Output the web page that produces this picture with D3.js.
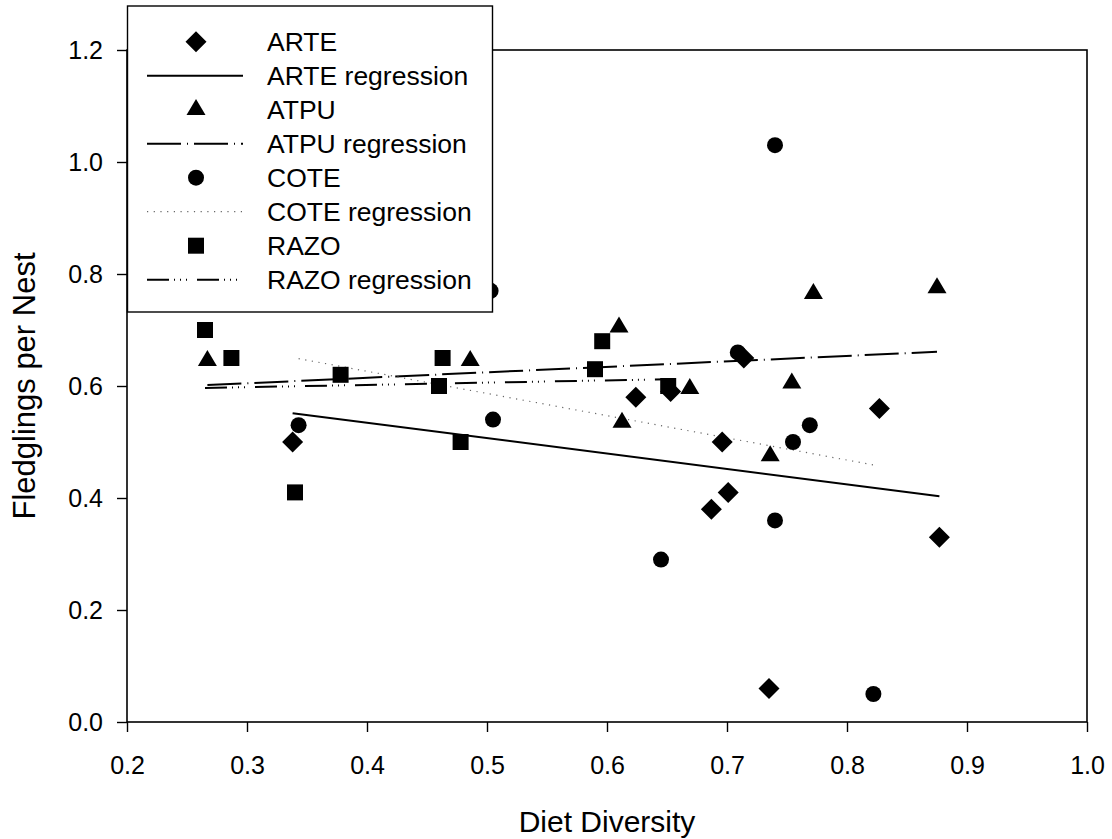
<!DOCTYPE html>
<html>
<head>
<meta charset="utf-8">
<script src="https://cdn.jsdelivr.net/npm/d3@7"></script>
<style>
  body { margin: 0; background: #fff; }
  text { font-family: Arial, "Liberation Sans", sans-serif; fill: #000; }
</style>
</head>
<body>
<svg width="1112" height="839"></svg>
<script>
// values
let arteX = [0.338, 0.624, 0.653, 0.696, 0.714, 0.701, 0.687, 0.735, 0.827, 0.877]
let arteY = [0.50, 0.58, 0.59, 0.50, 0.65, 0.41, 0.38, 0.06, 0.56, 0.33]

let atpuX = [0.267, 0.486, 0.610, 0.6125, 0.669, 0.736, 0.754, 0.772, 0.875]
let atpuY = [0.645, 0.645, 0.705, 0.535, 0.595, 0.475, 0.605, 0.765, 0.775]

let coteX = [0.343, 0.503, 0.505, 0.645, 0.709, 0.740, 0.740, 0.755, 0.769, 0.822]
let coteY = [0.53, 0.77, 0.54, 0.29, 0.66, 1.03, 0.36, 0.50, 0.53, 0.05]

let razoX = [0.265, 0.287, 0.340, 0.378, 0.460, 0.463, 0.478, 0.590, 0.596, 0.651]
let razoY = [0.70, 0.65, 0.41, 0.62, 0.60, 0.65, 0.50, 0.63, 0.68, 0.60]

let species = ['ARTE', 'ATPU', 'COTE', 'RAZO']
let xTicks = [0.2, 0.3, 0.4, 0.5, 0.6, 0.7, 0.8, 0.9, 1.0]
let yTicks = [0.0, 0.2, 0.4, 0.6, 0.8, 1.0, 1.2]

let margin = { top: 50, right: 25, bottom: 117, left: 127 }
let width = 1112
let height = 839

// triangle is centred on its centroid, like the original symbol
let shapes = {
  ARTE: 'M0,-10.5L10.5,0L0,10.5L-10.5,0Z',
  ATPU: 'M0,-10.7L9.5,5.3L-9.5,5.3Z',
  COTE: 'M-8,0A8,8 0 1,0 8,0A8,8 0 1,0 -8,0Z',
  RAZO: 'M-8,-8H8V8H-8Z'
}
let dashes = {
  ARTE: null,
  ATPU: '34,6,1,6',
  COTE: '1.2,5.5',
  RAZO: '22,5,1,5,1,5,1,10'
}
let lineColor = { ARTE: '#000', ATPU: '#000', COTE: '#666', RAZO: '#000' }

let series = [
  { name: 'ARTE', xs: arteX, ys: arteY },
  { name: 'ATPU', xs: atpuX, ys: atpuY },
  { name: 'COTE', xs: coteX, ys: coteY },
  { name: 'RAZO', xs: razoX, ys: razoY }
]

// least squares line over the range of the data
function fit(xs, ys) {
  let mx = d3.mean(xs), my = d3.mean(ys)
  let sxy = d3.sum(xs, (x, i) => (x - mx) * (ys[i] - my))
  let sxx = d3.sum(xs, x => (x - mx) * (x - mx))
  let b = sxy / sxx
  let a = my - b * mx
  let [x0, x1] = d3.extent(xs)
  return [[x0, a + b * x0], [x1, a + b * x1]]
}

let xScale = d3.scaleLinear()
  .domain([0.2, 1.0])
  .range([margin.left, width - margin.right])

let yScale = d3.scaleLinear()
  .domain([0, 1.2])
  .range([height - margin.bottom, margin.top])

let svg = d3.select('svg')

// frame
svg.append('rect')
  .attr('x', xScale(0.2))
  .attr('y', yScale(1.2))
  .attr('width', xScale(1.0) - xScale(0.2))
  .attr('height', yScale(0) - yScale(1.2))
  .attr('fill', 'none')
  .attr('stroke', '#000')
  .attr('stroke-width', 1.6)

let xAxis = d3.axisBottom(xScale)
  .tickValues(xTicks)
  .tickFormat(d3.format('.1f'))
  .tickSize(10)
  .tickSizeOuter(0)
  .tickPadding(24)

let yAxis = d3.axisLeft(yScale)
  .tickValues(yTicks)
  .tickFormat(d3.format('.1f'))
  .tickSize(10)
  .tickSizeOuter(0)
  .tickPadding(14)

let gx = svg.append('g')
  .attr('transform', 'translate(' + [0, yScale(0)] + ')')
  .call(xAxis)
let gy = svg.append('g')
  .attr('transform', 'translate(' + [xScale(0.2), 0] + ')')
  .call(yAxis)

for (let g of [gx, gy]) {
  g.select('.domain').remove()
  g.selectAll('line').attr('stroke', '#000').attr('stroke-width', 1.4)
  g.selectAll('text')
    .style('font-family', 'Arial, "Liberation Sans", sans-serif')
    .style('font-size', '25px')
    .attr('fill', '#000')
}

// regression lines
let line = d3.line().x(d => xScale(d[0])).y(d => yScale(d[1]))
series.forEach(s => {
  svg.append('path')
    .attr('d', line(fit(s.xs, s.ys)))
    .attr('fill', 'none')
    .attr('stroke', lineColor[s.name])
    .attr('stroke-width', s.name === 'COTE' ? 1.2 : 2)
    .attr('stroke-dasharray', dashes[s.name])
})

// points
series.forEach(s => {
  svg.append('g')
    .selectAll('path')
    .data(s.xs.map((x, i) => [x, s.ys[i]]))
    .enter()
    .append('path')
    .attr('d', shapes[s.name])
    .attr('transform', d => 'translate(' + [xScale(d[0]), yScale(d[1])] + ')')
    .attr('fill', '#000')
})

// axis titles
svg.append('text')
  .attr('x', (xScale(0.2) + xScale(1.0)) / 2)
  .attr('y', 832)
  .attr('text-anchor', 'middle')
  .style('font-size', '30px')
  .text('Diet Diversity')

svg.append('text')
  .attr('transform', 'translate(' + [35, (yScale(0) + yScale(1.2)) / 2] + ') rotate(-90)')
  .attr('text-anchor', 'middle')
  .style('font-size', '31px')
  .text('Fledglings per Nest')

// legend
let legend = svg.append('g')
legend.append('rect')
  .attr('x', 127.5)
  .attr('y', 6)
  .attr('width', 365)
  .attr('height', 306)
  .attr('fill', '#fff')
  .attr('stroke', '#000')
  .attr('stroke-width', 1.4)

let rows = []
species.forEach(name => {
  rows.push({ name: name, label: name, kind: 'symbol' })
  rows.push({ name: name, label: name + ' regression', kind: 'line' })
})

rows.forEach((r, i) => {
  let cy = 41.7 + i * 34
  if (r.kind === 'symbol') {
    legend.append('path')
      .attr('d', shapes[r.name])
      .attr('transform', 'translate(' + [196, cy] + ')')
      .attr('fill', '#000')
  } else {
    legend.append('line')
      .attr('x1', 147).attr('x2', 243)
      .attr('y1', cy).attr('y2', cy)
      .attr('stroke', lineColor[r.name])
      .attr('stroke-width', r.name === 'COTE' ? 1.2 : 2)
      .attr('stroke-dasharray', dashes[r.name])
  }
  legend.append('text')
    .attr('x', 267)
    .attr('y', cy + 9)
    .style('font-size', '26.5px')
    .text(r.label)
})
</script>
</body>
</html>
